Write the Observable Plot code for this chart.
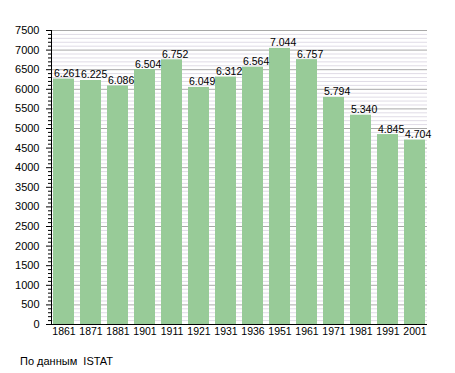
<!DOCTYPE html>
<html>
<head>
<meta charset="utf-8">
<script src="https://cdn.jsdelivr.net/npm/d3@7"></script>
<script src="https://cdn.jsdelivr.net/npm/@observablehq/plot@0.6"></script>
<style>
  html, body { margin: 0; padding: 0; background: #fff; }
  #wrap { position: relative; width: 455px; height: 373px; font-family: "Liberation Sans", Arial, sans-serif; }
  #caption { position: absolute; left: 20px; top: 355px; font-size: 11px; line-height: 13px; color: #000; white-space: pre; }
</style>
</head>
<body>
<div id="wrap"><div id="chart"></div><div id="caption"></div></div>
<script>
const years = ["1861","1871","1881","1901","1911","1921","1931","1936","1951","1961","1971","1981","1991","2001"];
const population = [6261, 6225, 6086, 6504, 6752, 6049, 6312, 6564, 7044, 6757, 5794, 5340, 4845, 4704];
const majorTicks = d3.range(0, 7501, 500);
const minorTicks = d3.range(0, 7501, 100).filter(v => v % 500 !== 0);
const captionText = "По данным  ISTAT";

const data = years.map((y, i) => ({year: y, value: population[i]}));
const fmt = d3.formatLocale({decimal: ",", thousands: ".", grouping: [3]}).format(",");

const chart = Plot.plot({
  width: 455,
  height: 340,
  marginLeft: 51,
  marginRight: 28,
  marginTop: 30,
  marginBottom: 16,
  style: {fontFamily: "Liberation Sans, Arial, sans-serif", fontSize: "10.5px", color: "#000", background: "#fff"},
  x: {type: "band", domain: years, paddingInner: 0.24, paddingOuter: 0.04, label: null},
  y: {domain: [0, 7500], label: null},
  marks: [
    Plot.ruleY(minorTicks, {stroke: "#e0dce6", strokeWidth: 1}),
    Plot.ruleY(majorTicks, {stroke: "#a8a8a8", strokeWidth: 1}),
    Plot.barY(data, {x: "year", y: "value", fill: "#98CB98"}),
    Plot.text(data, {x: "year", y: "value", text: d => fmt(d.value), textAnchor: "start", lineAnchor: "bottom", dx: -10, dy: -2, fontSize: 10.5, fill: "#000"}),
    Plot.axisY(minorTicks, {tickSize: 3, tickFormat: () => "", stroke: "#000"}),
    Plot.axisY(majorTicks, {tickSize: 5, tickPadding: 7, tickFormat: d3.format("d"), stroke: "#000", fill: "#000", fontSize: 11}),
    Plot.axisX({tickSize: 0, tickPadding: 3, fontSize: 10.5, fill: "#000"}),
    Plot.frame({anchor: "left", stroke: "#000"}),
    Plot.ruleY([0], {stroke: "#000"})
  ]
});
document.getElementById("chart").appendChild(chart);
document.getElementById("caption").textContent = captionText;
</script>
</body>
</html>
